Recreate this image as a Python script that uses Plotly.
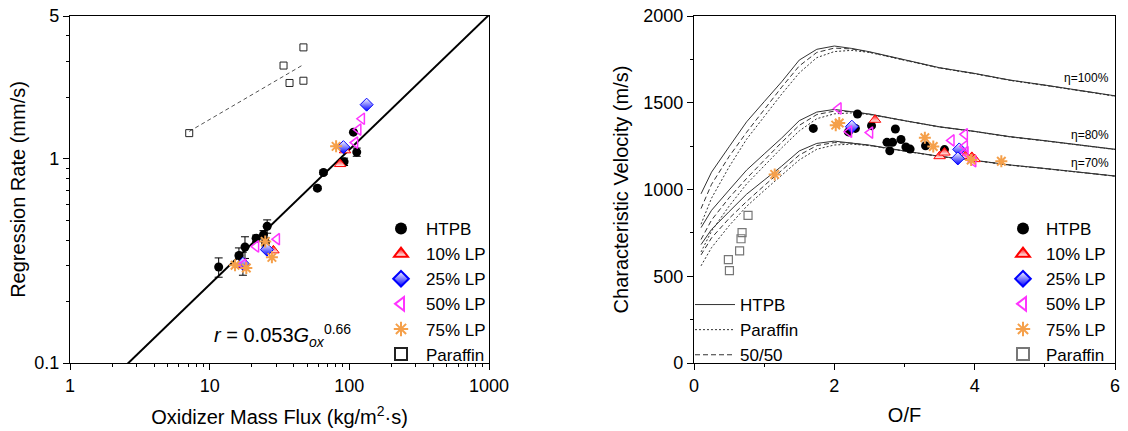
import numpy as np
import plotly.graph_objects as go

# ---------------- Regression rate vs oxidizer mass flux ----------------
htpb_g = [11.6, 16.2, 17.9, 17.3, 21.5, 24.3, 25.8, 25.1, 59.1, 65.3, 91.7, 113, 107]
htpb_r = [0.295, 0.336, 0.370, 0.309, 0.408, 0.425, 0.467, 0.390, 0.718, 0.857, 0.967, 1.078, 1.35]
htpb_err = [0.032, 0.03, 0.045, 0.04, 0.015, 0.02, 0.035, 0.02, 0.015, 0.02, 0.04, 0.05, 0.0]

lp10_g = [16.4, 28.6, 85.9, 93.2]
lp10_r = [0.302, 0.356, 0.942, 1.10]
lp25_g = [17.3, 25.7, 90.7, 133]
lp25_r = [0.306, 0.359, 1.14, 1.84]
lp50_g = [17.4, 21.5, 30.3, 110, 116, 123]
lp50_r = [0.303, 0.372, 0.404, 1.20, 1.39, 1.57]
lp75_g = [15.2, 18.3, 25.0, 27.9, 80.4]
lp75_r = [0.301, 0.292, 0.394, 0.329, 1.15]
par_g = [7.14, 33.8, 37.3, 46.9, 46.9]
par_r = [1.335, 2.86, 2.35, 3.51, 2.41]

# power-law fits r = a * G^n
fit_a, fit_n = 0.053, 0.66
par_fit_a, par_fit_n = 0.62, 0.40
par_fit_g = [7.14, 45.6]

# ---------------- Characteristic velocity vs O/F ----------------
of_grid = [0.1, 0.25, 0.5, 0.75, 1.0, 1.25, 1.5, 1.75, 2.0, 2.25, 2.5, 3.0, 3.5, 4.0, 4.5, 5.0, 5.5, 6.0]
cstar_htpb = [975, 1100, 1246, 1390, 1506, 1621, 1746, 1808, 1827, 1813, 1794, 1746, 1702, 1669, 1631, 1602, 1569, 1540]
cstar_paraffin = [800, 950, 1130, 1290, 1420, 1550, 1672, 1760, 1795, 1802, 1790, 1744, 1700, 1667, 1629, 1600, 1567, 1538]
cstar_5050 = [890, 1030, 1190, 1330, 1460, 1590, 1712, 1790, 1815, 1810, 1792, 1745, 1701, 1668, 1630, 1601, 1568, 1539]
efficiencies = [1.0, 0.8, 0.7]
eff_labels = ["η=100%", "η=80%", "η=70%"]
eff_label_y = [1641, 1314, 1152]

htpb_of = [1.70, 2.33, 2.30, 2.20, 2.53, 2.87, 2.75, 2.83, 2.79, 2.95, 3.02, 3.08, 3.30, 3.57]
htpb_cs = [1352, 1435, 1352, 1332, 1368, 1349, 1272, 1272, 1223, 1288, 1245, 1233, 1252, 1230]
lp10_of = [2.58, 3.50, 3.57, 3.87, 3.96, 4.00]
lp10_cs = [1402, 1192, 1213, 1194, 1188, 1175]
lp25_of = [2.25, 3.78, 3.76]
lp25_cs = [1362, 1231, 1179]
lp50_of = [2.06, 2.21, 2.51, 3.67, 3.86, 3.86, 3.87, 3.98]
lp50_cs = [1467, 1333, 1328, 1283, 1318, 1250, 1215, 1163]
lp75_of = [1.15, 2.02, 2.07, 3.29, 3.41, 3.95, 4.38]
lp75_cs = [1087, 1371, 1383, 1298, 1248, 1170, 1163]
par_of = [0.77, 0.685, 0.67, 0.65, 0.49, 0.505]
par_cs = [851, 752, 716, 646, 596, 532]

FONT = "Liberation Sans, Arial, sans-serif"
RED, BLUE, MAGENTA, ORANGE = "#ff0000", "#0000ff", "#ff33ff", "#f5a04a"

# page layout in pixels
W, H = 1128, 431
ML, MR, MT, MB = 70, 13, 16, 68
PW, PH = W - ML - MR, H - MT - MB


def px_x(px):
    return (px - ML) / PW


def px_y(py):
    return (H - MB - py) / PH


series_styles = [
    ("10% LP", dict(symbol="triangle-up", size=10, color=RED,
                    gradient=dict(type="vertical", color="white"),
                    line=dict(color=RED, width=1))),
    ("25% LP", dict(symbol="diamond", size=10, color="white",
                    gradient=dict(type="vertical", color=BLUE),
                    line=dict(color=BLUE, width=1))),
    ("50% LP", dict(symbol="triangle-left-open", size=10, color=MAGENTA,
                    line=dict(color=MAGENTA, width=1.5))),
    ("75% LP", dict(symbol="asterisk-open", size=10, color=ORANGE,
                    line=dict(color=ORANGE, width=2))),
]

fig = go.Figure()

# left panel
g_line = np.array([1.0, 1000.0])
fig.add_trace(go.Scatter(x=g_line, y=fit_a * g_line ** fit_n, mode="lines",
                         line=dict(color="black", width=2), showlegend=False,
                         xaxis="x", yaxis="y"))
pg = np.array(par_fit_g)
fig.add_trace(go.Scatter(x=pg, y=par_fit_a * pg ** par_fit_n, mode="lines",
                         line=dict(color="#555", width=1, dash="4px,3px"),
                         showlegend=False, xaxis="x", yaxis="y"))
fig.add_trace(go.Scatter(x=htpb_g, y=htpb_r, mode="markers", name="HTPB",
                         marker=dict(symbol="circle", size=9, color="black"),
                         error_y=dict(type="data", array=htpb_err, color="black",
                                      thickness=1, width=4),
                         xaxis="x", yaxis="y", legend="legend"))
for (name, mk), gx, ry in zip(series_styles,
                              [lp10_g, lp25_g, lp50_g, lp75_g],
                              [lp10_r, lp25_r, lp50_r, lp75_r]):
    fig.add_trace(go.Scatter(x=gx, y=ry, mode="markers", name=name, marker=mk,
                             xaxis="x", yaxis="y", legend="legend"))
fig.add_trace(go.Scatter(x=par_g, y=par_r, mode="markers", name="Paraffin",
                         marker=dict(symbol="square-open", size=7, color="#222",
                                     line=dict(width=1)),
                         xaxis="x", yaxis="y", legend="legend"))

# right panel: theoretical curves at each efficiency
curve_styles = [("HTPB", cstar_htpb, "solid"),
                ("Paraffin", cstar_paraffin, "2px,2px"),
                ("50/50", cstar_5050, "5px,3px")]
for eta in efficiencies:
    for name, cs, dash in curve_styles:
        fig.add_trace(go.Scatter(x=of_grid, y=[eta * v for v in cs], mode="lines",
                                 name=name, line=dict(color="#333", width=1, dash=dash),
                                 showlegend=(eta == 1.0), legend="legend3",
                                 xaxis="x2", yaxis="y2"))

fig.add_trace(go.Scatter(x=htpb_of, y=htpb_cs, mode="markers", name="HTPB",
                         marker=dict(symbol="circle", size=9, color="black"),
                         xaxis="x2", yaxis="y2", legend="legend2"))
for (name, mk), ox, cy in zip(series_styles,
                              [lp10_of, lp25_of, lp50_of, lp75_of],
                              [lp10_cs, lp25_cs, lp50_cs, lp75_cs]):
    fig.add_trace(go.Scatter(x=ox, y=cy, mode="markers", name=name, marker=mk,
                             xaxis="x2", yaxis="y2", legend="legend2"))
fig.add_trace(go.Scatter(x=par_of, y=par_cs, mode="markers", name="Paraffin",
                         marker=dict(symbol="square-open", size=8, color="#777",
                                     line=dict(width=1.2)),
                         xaxis="x2", yaxis="y2", legend="legend2"))

axis_common = dict(showline=True, linecolor="black", linewidth=1.2, mirror=True,
                   ticks="outside", ticklen=6, tickwidth=1, tickcolor="black",
                   showgrid=False, zeroline=False,
                   tickfont=dict(size=18, color="black", family=FONT))
minor_common = dict(ticks="outside", ticklen=3, tickcolor="black")

fig.update_layout(
    width=W, height=H,
    margin=dict(l=ML, r=MR, t=MT, b=MB, autoexpand=False),
    paper_bgcolor="white", plot_bgcolor="white",
    font=dict(family=FONT, color="black"),
    xaxis=dict(domain=[px_x(70), px_x(489)], type="log", range=[0, 3],
               tickvals=[1, 10, 100, 1000], ticktext=["1", "10", "100", "1000"],
               minor=dict(tickvals=[m * 10 ** k for k in range(3) for m in range(2, 10)],
                          **minor_common),
               title=dict(text="Oxidizer Mass Flux (kg/m<sup>2</sup>·s)",
                          font=dict(size=20), standoff=15),
               anchor="y", **axis_common),
    yaxis=dict(domain=[0, 1], type="log", range=[-1, np.log10(5)],
               tickvals=[0.1, 1, 5], ticktext=["0.1", "1", "5"],
               minor=dict(tickvals=[0.2, 0.3, 0.4, 0.5, 0.6, 0.7, 0.8, 0.9, 2, 3, 4],
                          **minor_common),
               title=dict(text="Regression Rate (mm/s)", font=dict(size=20), standoff=3),
               anchor="x", **axis_common),
    xaxis2=dict(domain=[px_x(694), px_x(1115)], range=[0, 6], dtick=2,
                minor=dict(dtick=1, **minor_common),
                title=dict(text="O/F", font=dict(size=20), standoff=13),
                anchor="y2", **axis_common),
    yaxis2=dict(domain=[0, 1], range=[0, 2000], dtick=500,
                minor=dict(dtick=250, **minor_common),
                title=dict(text="Characteristic Velocity (m/s)", font=dict(size=20), standoff=9),
                anchor="x2", **axis_common),
    legend=dict(x=px_x(376), y=px_y(211), xanchor="left", yanchor="top",
                bgcolor="rgba(0,0,0,0)", font=dict(size=17), itemsizing="constant",
                itemwidth=40),
    legend2=dict(x=px_x(1000), y=px_y(211), xanchor="left", yanchor="top",
                 bgcolor="rgba(0,0,0,0)", font=dict(size=17), itemsizing="constant",
                 itemwidth=36),
    legend3=dict(x=px_x(690), y=px_y(287), xanchor="left", yanchor="top",
                 bgcolor="rgba(0,0,0,0)", font=dict(size=17), itemwidth=40),
)

fig.add_annotation(x=np.log10(33), y=np.log10(0.137), xref="x", yref="y",
                   text="<i>r</i> = 0.053<i>G</i><sub><i>ox</i></sub><sup>0.66</sup>",
                   showarrow=False, font=dict(size=20, family=FONT, color="black"))
for lab, ly in zip(eff_labels, eff_label_y):
    fig.add_annotation(x=5.95, y=ly, xref="x2", yref="y2", text=lab, showarrow=False,
                       xanchor="right", font=dict(size=12, family=FONT, color="black"))

fig.write_html("out.html")
